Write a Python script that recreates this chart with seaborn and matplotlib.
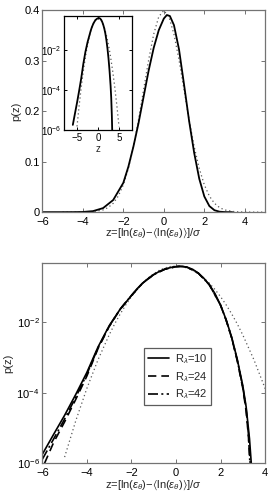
import numpy as np
import pandas as pd
import matplotlib
matplotlib.use("Agg")
import matplotlib.pyplot as plt
import matplotlib.ticker as mticker
import seaborn as sns

# ---------------- data ----------------
z_r10 = [-6.0, -5.5, -5.0, -4.5, -4.0, -3.5, -3.0, -2.5, -2.0, -1.75, -1.5, -1.25, -1.0,
         -0.75, -0.5, -0.25, 0.0, 0.15, 0.3, 0.5, 0.75, 1.0, 1.25, 1.5, 1.75, 2.0, 2.25,
         2.5, 2.75, 3.0, 3.15, 3.3, 3.38]
p_r10 = [1.8e-6, 6.5e-6, 2.3e-5, 9.0e-5, 3.8e-4, 2.0e-3, 8.0e-3, 0.024, 0.058, 0.090, 0.130,
         0.176, 0.228, 0.280, 0.325, 0.360, 0.383, 0.390, 0.388, 0.370, 0.322, 0.252, 0.180,
         0.117, 0.066, 0.031, 0.0120, 3.8e-3, 9.0e-4, 1.6e-4, 4.0e-5, 5.0e-6, 1.0e-6]

z_r24 = [-5.9, -5.5, -5.0, -4.5, -4.0, -3.5, -3.0, -2.5, -2.0, -1.5, -1.0, -0.5, 0.0, 0.15,
         0.3, 0.5, 1.0, 1.5, 2.0, 2.25, 2.5, 2.75, 3.0, 3.15, 3.25, 3.33]
p_r24 = [1.0e-6, 3.8e-6, 1.5e-5, 6.5e-5, 3.0e-4, 1.8e-3, 7.6e-3, 0.024, 0.058, 0.130, 0.228,
         0.325, 0.383, 0.390, 0.388, 0.370, 0.252, 0.117, 0.031, 0.0117, 3.6e-3, 8.2e-4,
         1.35e-4, 3.0e-5, 6.0e-6, 1.0e-6]

z_r42 = [-6.0, -5.5, -5.0, -4.5, -4.0, -3.5, -3.0, -2.5, -2.0, -1.5, -1.0, -0.5, 0.0, 0.15,
         0.3, 0.5, 1.0, 1.5, 2.0, 2.25, 2.5, 2.75, 3.0, 3.15, 3.25, 3.32]
p_r42 = [1.3e-6, 4.8e-6, 1.8e-5, 7.5e-5, 3.4e-4, 1.9e-3, 7.8e-3, 0.024, 0.058, 0.130, 0.228,
         0.325, 0.383, 0.390, 0.388, 0.370, 0.252, 0.117, 0.031, 0.0118, 3.7e-3, 8.6e-4,
         1.45e-4, 3.5e-5, 7.0e-6, 1.0e-6]

z_gauss = [-5.0, -4.5, -4.0, -3.5, -3.0, -2.75, -2.5, -2.25, -2.0, -1.75, -1.5, -1.25, -1.0,
           -0.75, -0.5, -0.25, 0.0, 0.25, 0.5, 0.75, 1.0, 1.25, 1.5, 1.75, 2.0, 2.25, 2.5,
           2.75, 3.0, 3.5, 4.0, 4.5, 5.0]
p_gauss = [1.5e-6, 1.6e-5, 1.34e-4, 8.7e-4, 4.4e-3, 9.1e-3, 0.0175, 0.0317, 0.054, 0.0863,
           0.1295, 0.1826, 0.242, 0.3011, 0.3521, 0.3867, 0.3989, 0.3867, 0.3521, 0.3011,
           0.242, 0.1826, 0.1295, 0.0863, 0.054, 0.0317, 0.0175, 0.0091, 4.4e-3, 8.7e-4,
           1.34e-4, 1.6e-5, 1.5e-6]

legend_labels = [r"R$_\lambda$=10", r"R$_\lambda$=24", r"R$_\lambda$=42"]
xlabel_text = r"z=[ln($\varepsilon_\theta$)$-\langle$ln($\varepsilon_\theta$)$\rangle$]/$\sigma$"

top_xticks = [-6, -4, -2, 0, 2, 4]
top_yticks = [0, 0.1, 0.2, 0.3, 0.4]
top_yticklabels = ["0", "0.1", "0.2", "0.3", "0.4"]
inset_xticks = [-5, 0, 5]
log_yticks = [1e-6, 1e-4, 1e-2]
bot_xticks = [-6, -4, -2, 0, 2, 4]

# ---------------- style ----------------
sns.set_theme(style="ticks")
plt.rcParams["font.family"] = ["Liberation Sans", "DejaVu Sans"]
plt.rcParams["mathtext.fontset"] = "custom"
plt.rcParams["mathtext.rm"] = "Liberation Sans"
plt.rcParams["mathtext.it"] = "Liberation Sans:italic"
plt.rcParams["mathtext.bf"] = "Liberation Sans:bold"
plt.rcParams["mathtext.fallback"] = "stixsans"
plt.rcParams["axes.unicode_minus"] = True

FS = 8
spine_col = "0.45"

fig = plt.figure(figsize=(2.73, 4.98), dpi=100)
ax1 = fig.add_axes([0.155, 0.574, 0.816, 0.406])
ax2 = fig.add_axes([0.155, 0.0697, 0.816, 0.403])
axi = fig.add_axes([0.236, 0.739, 0.246, 0.229])


def style_axes(ax, col, fs):
    for s in ax.spines.values():
        s.set_visible(True)
        s.set_color(col)
        s.set_linewidth(0.9)
    ax.tick_params(which="both", direction="in", top=True, right=True, color=col,
                   labelsize=fs, length=3, width=0.7, labelcolor="black")
    ax.tick_params(axis="y", pad=2)
    ax.tick_params(axis="x", pad=3.5)
    ax.tick_params(which="minor", length=0)
    ax.set_facecolor("white")


dot_style = dict(color="0.35", linestyle=(0, (1, 2.2)), linewidth=0.9, sort=False,
                 estimator=None)

# ---- top panel (linear) ----
sns.lineplot(x=z_gauss, y=p_gauss, ax=ax1, **dot_style)
sns.lineplot(x=z_r10, y=p_r10, ax=ax1, color="black", linewidth=1.3, sort=False,
             estimator=None)
ax1.set_xlim(-6, 5)
ax1.set_ylim(0, 0.4)
ax1.set_xticks(top_xticks)
ax1.set_yticks(top_yticks)
ax1.set_yticklabels(top_yticklabels)
ax1.set_xlabel(xlabel_text, fontsize=FS, labelpad=0)
ax1.set_ylabel("p(z)", fontsize=FS, labelpad=2)
style_axes(ax1, spine_col, FS)

# ---- inset (log) ----
sns.lineplot(x=z_gauss, y=p_gauss, ax=axi, **dot_style)
sns.lineplot(x=z_r10, y=p_r10, ax=axi, color="black", linewidth=1.3, sort=False,
             estimator=None)
axi.set_yscale("log")
axi.set_xlim(-8, 8)
axi.set_ylim(1e-6, 0.5)
axi.set_xticks(inset_xticks)
axi.yaxis.set_major_locator(mticker.FixedLocator(log_yticks))
axi.yaxis.set_minor_locator(mticker.NullLocator())
axi.set_xlabel("z", fontsize=7, labelpad=1)
style_axes(axi, "black", 7)
axi.tick_params(length=2)
axi.tick_params(axis="x", pad=2)

# ---- bottom panel (log, three Reynolds numbers) ----
sns.lineplot(x=z_gauss, y=p_gauss, ax=ax2, **dot_style)
l10 = sns.lineplot(x=z_r10, y=p_r10, ax=ax2, color="black", linewidth=1.2,
                   sort=False, estimator=None).get_lines()[-1]
l24 = sns.lineplot(x=z_r24, y=p_r24, ax=ax2, color="black", linewidth=1.2,
                   linestyle=(0, (5, 3)), sort=False, estimator=None).get_lines()[-1]
l42 = sns.lineplot(x=z_r42, y=p_r42, ax=ax2, color="black", linewidth=1.2,
                   linestyle=(0, (6, 2, 1.2, 2)), sort=False, estimator=None).get_lines()[-1]
ax2.set_yscale("log")
ax2.set_xlim(-6, 4)
ax2.set_ylim(1e-6, 0.5)
ax2.set_xticks(bot_xticks)
ax2.yaxis.set_major_locator(mticker.FixedLocator(log_yticks))
ax2.yaxis.set_minor_locator(mticker.NullLocator())
ax2.set_xlabel(xlabel_text, fontsize=FS, labelpad=0)
ax2.set_ylabel("p(z)", fontsize=FS, labelpad=2)
style_axes(ax2, spine_col, FS)

leg = ax2.legend([l10, l24, l42], legend_labels, loc="upper left",
                 bbox_to_anchor=(0.457, 0.573), fontsize=FS, frameon=True,
                 fancybox=False, edgecolor="0.2", handlelength=1.9,
                 handletextpad=0.5, borderpad=0.35, labelspacing=0.35,
                 borderaxespad=0)
leg.get_frame().set_linewidth(0.9)

fig.savefig("out.png", dpi=100, facecolor="white")
